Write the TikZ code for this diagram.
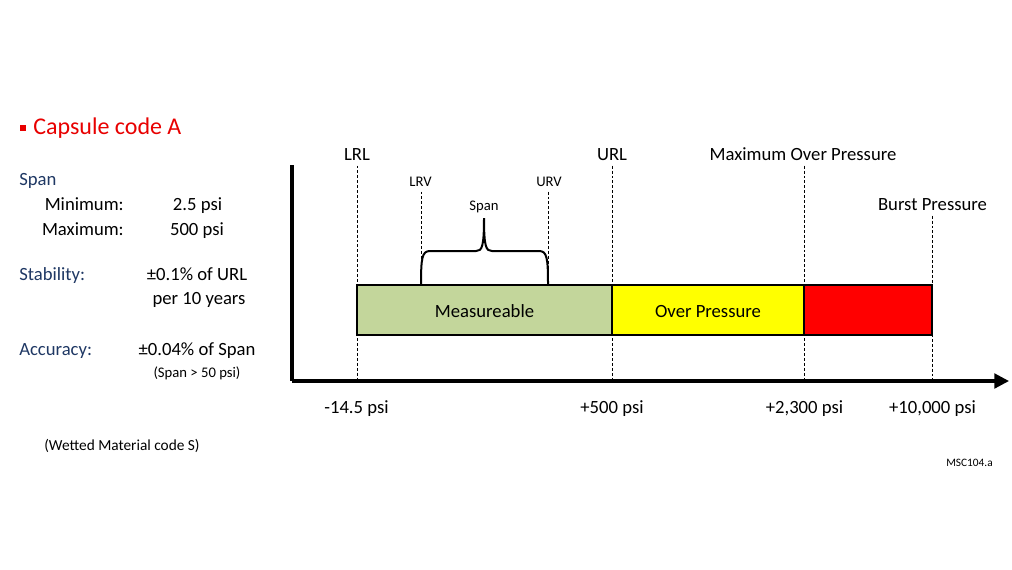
\documentclass[tikz,border=0pt]{standalone}
\usepackage{fontspec}
\setmainfont{Carlito}
\usepackage{tikz}
\usetikzlibrary{arrows.meta, positioning}
\definecolor{titlered}{RGB}{232,0,0}
\definecolor{navy}{RGB}{31,56,100}
\definecolor{measgreen}{RGB}{195,214,155}
\definecolor{overyellow}{RGB}{255,255,0}
\definecolor{burstred}{RGB}{255,0,0}

\begin{document}
\begin{tikzpicture}[x=0.75pt, y=-0.75pt,
  txt/.style={font=\fontsize{14}{16}\selectfont, anchor=mid},
  small/.style={font=\fontsize{11}{13}\selectfont, anchor=mid},
  hdr/.style={txt, text=navy, anchor=mid west, inner sep=0pt},
  bar/.style={draw, line width=0.8pt, inner sep=0pt, outer sep=0pt, minimum height=37.5pt, anchor=north west, text height=11.5pt, text depth=0pt, font=\fontsize{14}{16}\selectfont},
  guide/.style={dash pattern=on 2.2pt off 1.5pt, line width=0.6pt},
  axis/.style={line width=2.3pt}]
\fill[white] (0,0) rectangle (1012,569);
\useasboundingbox (0,0) rectangle (1012,569);
% left column
\node[fill=titlered, minimum size=3.8pt, inner sep=0pt] (bullet) at (23,128) {};
\node[font=\fontsize{18}{20}\selectfont, text=titlered, anchor=mid west, inner sep=0pt] (title) at (33,131) {Capsule code A};
\node[hdr] (span) at (19,182.5) {Span};
\node[txt, anchor=mid east, inner sep=0pt] (min) at (124,207.5) {Minimum:};
\node[txt, anchor=mid east, inner sep=0pt] (max) at (124,232.5) {Maximum:};
\node[txt] (minval) at (197.5,207.5) {2.5 psi};
\node[txt] (maxval) at (197,232.5) {500 psi};
\node[hdr] (stab) at (19,277.5) {Stability:};
\node[txt] (stabval) at (197,277.5) {±0.1\% of URL};
\node[txt] (stabper) at (199,301.5) {per 10 years};
\node[hdr] (acc) at (19,352.5) {Accuracy:};
\node[txt] (accval) at (197,352.5) {±0.04\% of Span};
\node[small] (accnote) at (197,374.5) {(Span > 50 psi)};
\node[small, font=\fontsize{11.5}{13}\selectfont, anchor=mid west, inner sep=0pt] (wetted) at (44,447) {(Wetted Material code S)};
\node[font=\fontsize{8.5}{10}\selectfont, anchor=mid east, inner sep=0pt] (ref) at (993,463) {MSC104.a};
%
% axis and ticks
\coordinate (ytop) at (292,165);
\coordinate (origin) at (292,381);
\coordinate (xend) at (1009,381);
\coordinate (lrl) at (357,381);
\coordinate (url) at (612,381);
\coordinate (mop) at (804,381);
\coordinate (bp) at (932,381);
\coordinate (lrvend) at (421,285);
\coordinate (urvend) at (548,285);
%
\node[txt] (lrltxt) at (357,157.6) {LRL};
\node[txt] (urltxt) at (612,157.6) {URL};
\node[txt] (moptxt) at (803,157.6) {Maximum Over Pressure};
\node[txt] (bptxt) at (932.5,207.6) {Burst Pressure};
\node[small] (lrvtxt) at (420.5,183.6) {LRV};
\node[small] (urvtxt) at (549,183.6) {URV};
\node[small] (spantxt) at (484,207.5) {Span};
%
\draw[guide] (lrltxt.south) -- (lrl);
\draw[guide] (urltxt.south) -- (url);
\draw[guide] (moptxt.south -| mop) -- (mop);
\draw[guide] (bptxt.south -| bp) -- (bp);
\draw[guide] (lrvtxt.south -| lrvend) -- (lrvend);
\draw[guide] (urvtxt.south -| urvend) -- (urvend);
%
% ranges
\node[bar, fill=measgreen, minimum width=191.25pt] (meas) at (357,285) {Measureable};
\node[bar, fill=overyellow, minimum width=144pt] (over) at (meas.north east) {Over Pressure};
\node[bar, fill=burstred, minimum width=96pt] (burst) at (over.north east) {};
%
% span brace
\draw[line width=1.5pt] (lrvend) .. controls (421,258) and (422,251) .. (430,251) -- (476,251)
  .. controls (482,251) and (484,247) .. (484,218)
  .. controls (484,247) and (486,251) .. (492,251) -- (539,251)
  .. controls (547,251) and (548,258) .. (urvend);
%
\draw[axis] (ytop) -- (origin);
\draw[axis, -{Triangle[length=11pt,width=11pt]}] (origin) -- (xend);
%
\node[txt] (lrlval) at (356.5,410.6) {-14.5 psi};
\node[txt] (urlval) at (612,410.6) {+500 psi};
\node[txt] (mopval) at (804.5,410.6) {+2,300 psi};
\node[txt] (bpval) at (932.5,410.6) {+10,000 psi};
\end{tikzpicture}
\end{document}
